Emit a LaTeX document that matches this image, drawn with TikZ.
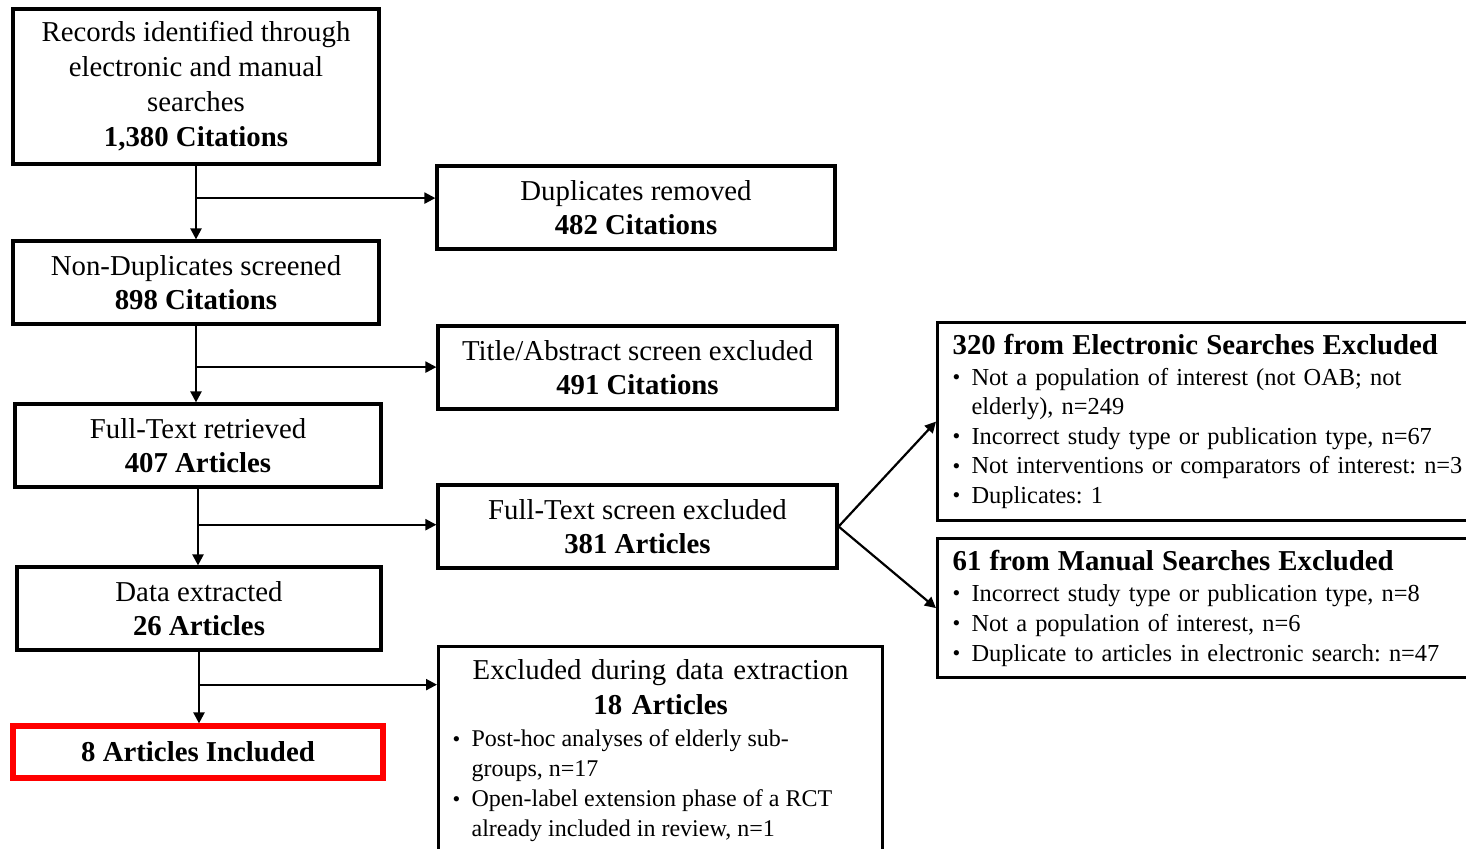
\documentclass[tikz,border=0pt]{standalone}
\usepackage{fontspec}
\setmainfont{Liberation Serif}
\usetikzlibrary{arrows.meta,calc}
\frenchspacing
\newcommand\bul{\makebox[9.5pt][l]{\raisebox{0.3pt}{\fontsize{11}{11}\selectfont\textbullet}}}
\newcommand\ind{\hspace*{9.5pt}}
\begin{document}
\begin{tikzpicture}[x=0.5pt,y=-0.5pt,
  box/.style={draw, line width=1.6pt, inner sep=0pt, align=center,
    font=\fontsize{14.4}{17.5}\selectfont},
  lbox/.style={draw, line width=1.6pt, anchor=north west, inner xsep=7.5pt,
    inner ysep=0pt, align=left, font=\fontsize{12.2}{14.75}\selectfont},
  arr/.style={line width=1.1pt, -{Triangle[length=5.5pt,width=5.5pt]}}]
\useasboundingbox (0,0) rectangle (1466,848);

% left column
\node[box, minimum width=183pt, minimum height=77.5pt] (a) at (196,86.5)
  {Records identified through\\electronic and manual\\searches\\\textbf{1,380 Citations}};
\node[box, minimum width=183pt, minimum height=41.5pt, font=\fontsize{14.4}{17}\selectfont] (b) at (196,282.5)
  {Non-Duplicates screened\\\textbf{898 Citations}};
\node[box, minimum width=183pt, minimum height=41.5pt, font=\fontsize{14.4}{17}\selectfont] (c) at (198,445.5)
  {Full-Text retrieved\\\textbf{407 Articles}};
\node[box, minimum width=182pt, minimum height=41.5pt, font=\fontsize{14.4}{17}\selectfont] (d) at (199,608.5)
  {Data extracted\\\textbf{26 Articles}};
\node[box, draw=red, line width=2.6pt, minimum width=185pt, minimum height=26pt] (e) at (198,752)
  {\textbf{8 Articles Included}};

% middle column
\node[box, minimum width=199pt, minimum height=41.5pt, font=\fontsize{14.4}{17}\selectfont] (d1) at (636,207.5)
  {Duplicates removed\\\textbf{482 Citations}};
\node[box, minimum width=199.5pt, minimum height=41.5pt, font=\fontsize{14.4}{17}\selectfont] (d2) at (637.5,367.5)
  {Title/Abstract screen excluded\\\textbf{491 Citations}};
\node[box, minimum width=199.5pt, minimum height=41.5pt, font=\fontsize{14.4}{17}\selectfont] (d3) at (637.5,526.5)
  {Full-Text screen excluded\\\textbf{381 Articles}};
\node[draw, line width=1.6pt, anchor=north west, inner xsep=7pt, inner ysep=6.5pt,
  text width=208pt, align=center, font=\fontsize{14.4}{17.5}\selectfont] (d4) at (437,645)
  {Excluded during data extraction\\\textbf{18 Articles}\par
   \vspace{1pt}\raggedright\fontsize{12}{15}\selectfont\spaceskip=0pt\xspaceskip=0pt
   \bul Post-hoc analyses of elderly sub-\\
   \ind groups, n=17\\
   \bul Open-label extension phase of a RCT\\
   \ind already included in review, n=1\par\vspace{2pt}};

% right column
\node[lbox, text width=262pt, minimum height=99pt] (e1) at (936,321)
  {{\fontsize{14.4}{14.75}\selectfont\bfseries 320 from Electronic Searches Excluded}\\[0.5pt]
   \bul Not a population of interest (not OAB; not\\
   \ind elderly), n=249\\
   \bul Incorrect study type or publication type, n=67\\
   \bul Not interventions or comparators of interest: n=3\\
   \bul Duplicates: 1};
\node[lbox, text width=262pt, minimum height=69.5pt, font=\fontsize{12.2}{15}\selectfont] (e2) at (936,537)
  {{\fontsize{14.4}{15}\selectfont\bfseries 61 from Manual Searches Excluded}\\[0.5pt]
   \bul Incorrect study type or publication type, n=8\\
   \bul Not a population of interest, n=6\\
   \bul Duplicate to articles in electronic search: n=47};

% connectors
\coordinate (j1) at ($(a.south)!0.44!(a.south |- b.north)$);
\coordinate (j2) at ($(b.south)!0.54!(b.south |- c.north)$);
\coordinate (j3) at ($(c.south)!0.47!(c.south |- d.north)$);
\coordinate (j4) at ($(d.south)!0.46!(d.south |- e.north)$);
\draw[arr] (a.south) -- (a.south |- b.north);
\draw[arr] (b.south) -- (b.south |- c.north);
\draw[arr] (c.south) -- (c.south |- d.north);
\draw[arr] (d.south) -- (d.south |- e.north);
\draw[arr] (j1) -- (j1 -| d1.west);
\draw[arr] (j2) -- (j2 -| d2.west);
\draw[arr] (j3) -- (j3 -| d3.west);
\draw[arr] (j4) -- (j4 -| d4.west);
\draw[arr] (d3.east) -- (e1.west);
\draw[arr] (d3.east) -- (e2.west);
\end{tikzpicture}
\end{document}
